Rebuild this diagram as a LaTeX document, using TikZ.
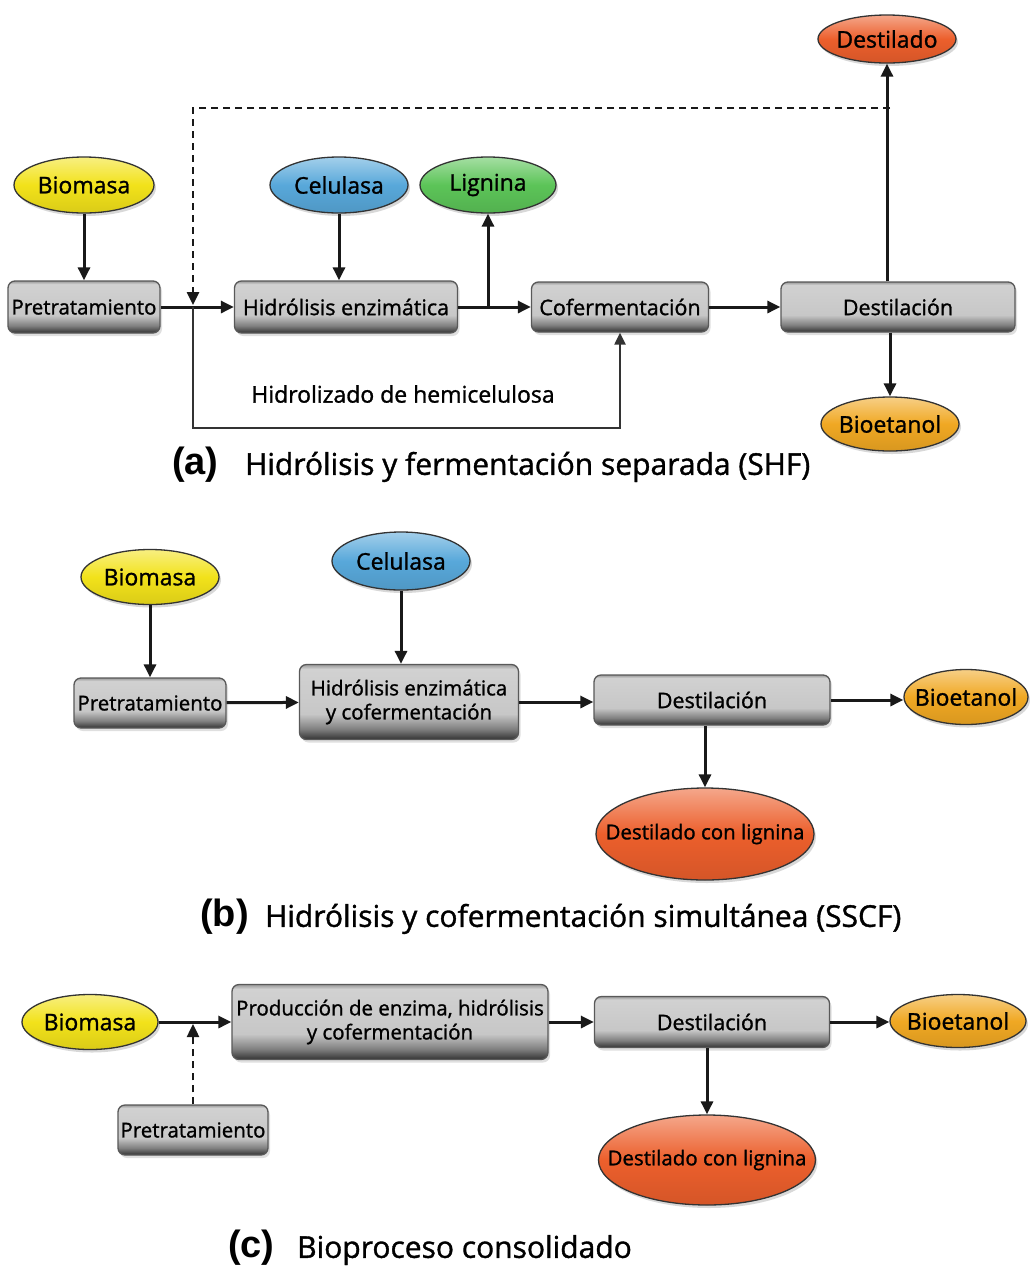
\documentclass[tikz,border=0pt]{standalone}
\usepackage{fontspec}
\setmainfont{Open Sans}
\newfontfamily\dfont{Open Sans}[FakeBold=1.2]
\newfontfamily\capfont{Liberation Sans}
\usetikzlibrary{arrows.meta,shadows,shapes.geometric}
\definecolor{cyel}{HTML}{F2E21A}
\definecolor{cblu}{HTML}{58A8DA}
\definecolor{cgrn}{HTML}{5CC458}
\definecolor{cred}{HTML}{EC5F2C}
\definecolor{corg}{HTML}{F0A823}
\pgfdeclareverticalshading{boxsh}{100bp}{color(0bp)=(black!80); color(25bp)=(black!80); color(32bp)=(black!50); color(42bp)=(black!22); color(72bp)=(black!18); color(75bp)=(black!40); color(100bp)=(black!40)}
\tikzset{
  ell/.style={ellipse, draw=black!80, line width=1.3pt, inner sep=0pt,
    font=\dfont\fontsize{23}{26}\selectfont,
    drop shadow={opacity=0.3,shadow xshift=2pt,shadow yshift=-3pt}},
  eyel/.style={ell, top color=cyel!55!white, bottom color=cyel!90!black, middle color=cyel},
  eblu/.style={ell, top color=cblu!55!white, bottom color=cblu!90!black, middle color=cblu},
  egrn/.style={ell, top color=cgrn!55!white, bottom color=cgrn!90!black, middle color=cgrn},
  ered/.style={ell, top color=cred!55!white, bottom color=cred!90!black, middle color=cred},
  eorg/.style={ell, top color=corg!55!white, bottom color=corg!90!black, middle color=corg},
  smalltxt/.style={font=\dfont\fontsize{20.5}{24}\selectfont},
  procbox/.style={rectangle, rounded corners=7pt, draw=black!65, line width=1.3pt,
    shading=boxsh, font=\dfont\fontsize{21.5}{24}\selectfont, align=center, inner sep=0pt,
    drop shadow={opacity=0.25,shadow xshift=2pt,shadow yshift=-3pt}},
  arr/.style={line width=3pt, draw=black!90, -{Triangle[length=13pt,width=12pt]}},
  lbl/.style={font=\dfont\fontsize{23}{26}\selectfont, inner sep=0pt},
  captxt/.style={anchor=west, inner sep=0pt, font=\dfont\fontsize{30}{34}\selectfont},
}
\newcommand{\capl}[2]{\makebox[#1][l]{\capfont\bfseries\fontsize{38}{40}\selectfont #2}}
\newcommand{\zt}[1]{\makebox[0pt][c]{#1}}
\begin{document}
\begin{tikzpicture}[x=1pt,y=1pt]
\fill[white] (0,0) rectangle (1029,-1270);
\useasboundingbox (0,0) rectangle (1029,-1270);

% ---------- (a) ----------
\node[ered, minimum width=138pt, minimum height=48pt] (dstA) at (887,-39) {\zt{Destilado}};
\node[eyel, minimum width=140pt, minimum height=56pt] (bioA) at (84,-185) {\zt{Biomasa}};
\node[eblu, minimum width=138pt, minimum height=56pt] (celA) at (339,-185) {\zt{Celulasa}};
\node[egrn, minimum width=136pt, minimum height=56pt] (ligA) at (488,-185) {\zt{Lignina}};
\node[procbox, smalltxt, minimum width=152pt, minimum height=52pt] (pretA) at (84,-307) {Pretratamiento};
\node[procbox, minimum width=223pt, minimum height=52pt] (hidA) at (346,-307) {Hidrólisis enzimática};
\node[procbox, minimum width=177pt, minimum height=50pt] (cofA) at (620,-307) {Cofermentación};
\node[procbox, minimum width=234pt, minimum height=50pt] (destA) at (898,-307) {Destilación};
\node[eorg, minimum width=138pt, minimum height=54pt] (betA) at (890,-424) {\zt{Bioetanol}};
\node[lbl] (hemA) at (403,-394) {Hidrolizado de hemicelulosa};
\coordinate (dj) at (890,-108);
\coordinate (xd) at (193,-307);
\coordinate (hc) at (620,-428);

\draw[arr] (bioA) -- (pretA);
\draw[arr] (celA.south) -- (celA.south |- hidA.north);
\draw[arr] (pretA) -- (hidA);
\draw[arr] (hidA) -- (cofA);
\draw[arr] (ligA.south |- hidA.east) -- (ligA.south);
\draw[arr] (cofA) -- (destA);
\draw[arr] (destA.north -| dstA.south) -- (dstA.south);
\draw[arr] (destA.south -| betA.north) -- (betA.north);
\draw[arr, line width=2.5pt, dashed, dash pattern=on 7pt off 5pt] (dj) -| ([yshift=2pt]xd);
\draw[line width=2.2pt, draw=black!80, -{Triangle[length=12pt,width=11pt]}] (xd) |- (hc) -- (cofA.south);

\node[captxt] (capA) at (172,-465) {\capl{73pt}{(a)}Hidrólisis y fermentación separada (SHF)};

% ---------- (b) ----------
\node[eyel, minimum width=138pt, minimum height=55pt] (bioB) at (150,-577) {\zt{Biomasa}};
\node[eblu, minimum width=138pt, minimum height=58pt] (celB) at (401,-561) {\zt{Celulasa}};
\node[procbox, smalltxt, minimum width=152pt, minimum height=50pt] (pretB) at (150,-703) {Pretratamiento};
\node[procbox, smalltxt, minimum width=219pt, minimum height=75pt] (hidB) at (409,-702) {Hidrólisis enzimática\\y cofermentación};
\node[procbox, minimum width=236pt, minimum height=50pt] (destB) at (712,-700) {Destilación};
\node[eorg, minimum width=124pt, minimum height=55pt] (betB) at (966,-697) {\zt{Bioetanol}};
\node[ered, smalltxt, minimum width=218pt, minimum height=92pt] (dlB) at (705,-834) {\zt{Destilado con lignina}};

\draw[arr] (bioB) -- (pretB);
\draw[arr] (celB.south) -- (celB.south |- hidB.north);
\draw[arr] (pretB) -- (hidB);
\draw[arr] (hidB.east) -- (hidB.east -| destB.west);
\draw[arr] (destB.east) -- (destB.east -| betB.west);
\draw[arr] (dlB.north |- destB.south) -- (dlB.north);

\node[captxt] (capB) at (200,-917) {\capl{65pt}{(b)}Hidrólisis y cofermentación simultánea (SSCF)};

% ---------- (c) ----------
\node[eyel, minimum width=136pt, minimum height=55pt] (bioC) at (90,-1022) {\zt{Biomasa}};
\node[procbox, smalltxt, minimum width=316pt, minimum height=75pt] (prodC) at (390,-1022) {Producción de enzima, hidrólisis\\y cofermentación};
\node[procbox, minimum width=235pt, minimum height=51pt] (destC) at (712,-1022) {Destilación};
\node[eorg, minimum width=136pt, minimum height=53pt] (betC) at (958,-1021) {\zt{Bioetanol}};
\node[procbox, smalltxt, minimum width=150pt, minimum height=50pt] (pretC) at (193,-1130) {Pretratamiento};
\node[ered, smalltxt, minimum width=217pt, minimum height=90pt] (dlC) at (707,-1160) {\zt{Destilado con lignina}};

\draw[arr] (bioC) -- (prodC);
\draw[arr] (prodC) -- (destC);
\draw[arr] (destC.east) -- (destC.east -| betC.west);
\draw[arr] (dlC.north |- destC.south) -- (dlC.north);
\draw[arr, line width=2.5pt, dashed, dash pattern=on 7pt off 5pt] (pretC.north) -- ([yshift=-2pt]pretC.north |- bioC.east);

\node[captxt] (capC) at (228,-1248) {\capl{69pt}{(c)}Bioproceso consolidado};
\end{tikzpicture}
\end{document}
